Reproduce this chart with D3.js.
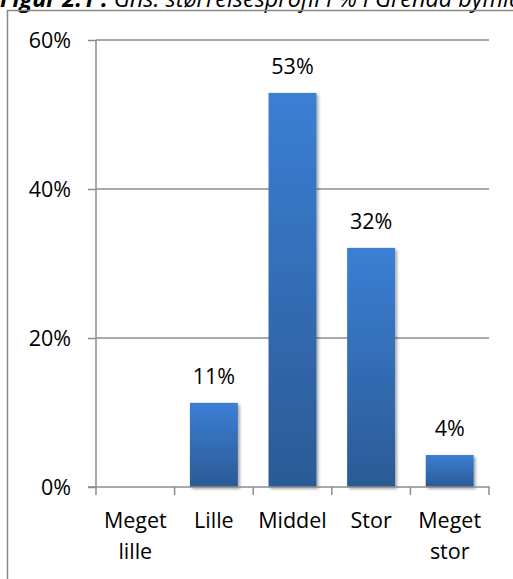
<!DOCTYPE html>
<html><head><meta charset="utf-8">
<script src="https://cdn.jsdelivr.net/npm/d3@7"></script>
<style>body{margin:0;background:#fff}svg{display:block}</style>
</head><body>
<script>
const categories = [["Meget","lille"],["Lille"],["Middel"],["Stor"],["Meget","stor"]];
const values = [0, 11.3, 52.9, 32.1, 4.3];
const valueLabels = [null, "11%", "53%", "32%", "4%"];
const yTicks = [0, 20, 40, 60];

const W = 513, H = 579;
const svg = d3.select("body").append("svg").attr("width", W).attr("height", H);
const defs = svg.append("defs");
const g = defs.append("linearGradient").attr("id","bg").attr("x1",0).attr("y1",0).attr("x2",0).attr("y2",1);
g.append("stop").attr("offset","0%").attr("stop-color","#3b7fd4");
g.append("stop").attr("offset","100%").attr("stop-color","#2b5a95");
const f = defs.append("filter").attr("id","sh").attr("x","-20%").attr("y","-20%").attr("width","140%").attr("height","140%");
f.append("feGaussianBlur").attr("in","SourceAlpha").attr("stdDeviation",1.5);
f.append("feOffset").attr("dx",1.5).attr("dy",1.5).attr("result","ob");
f.append("feComponentTransfer").append("feFuncA").attr("type","linear").attr("slope",0.35);
const m = f.append("feMerge"); m.append("feMergeNode"); m.append("feMergeNode").attr("in","SourceGraphic");

const font = "'Open Sans', sans-serif";

// title (cut off at top, as in the reference)
const t = svg.append("text").attr("x", 0).attr("y", 7).attr("font-family", font).attr("font-size", 23.5).attr("font-style","italic").attr("fill","#000");
t.append("tspan").attr("font-weight","bold").text("Figur 2.1 : ");
t.append("tspan").text("Gns. størrelsesprofil i % i Grenaa bymidte");

// frame
svg.append("path").attr("d", `M7.5,${H} V10.5 H${W}`).attr("fill","none").attr("stroke","#898989").attr("stroke-width",1.5);

const x = d3.scaleBand().domain(d3.range(categories.length)).range([96, 489]).padding(0);
const y = d3.scaleLinear().domain([0, 60]).range([487, 40]);

// gridlines
svg.append("g").selectAll("line").data(yTicks.filter(d=>d>0)).join("line")
  .attr("x1", 96).attr("x2", 489).attr("y1", d=>y(d)).attr("y2", d=>y(d))
  .attr("stroke","#8c8c8c").attr("stroke-width",1.5);

// y axis
const ya = svg.append("g").attr("transform","translate(96,0)")
  .call(d3.axisLeft(y).tickValues(yTicks).tickSize(8).tickPadding(17).tickFormat(d=>d+"%"));
ya.select(".domain").attr("stroke","#8c8c8c").attr("stroke-width",1.5).attr("d","M0,487.5V40");
ya.selectAll(".tick line").attr("stroke","#8c8c8c").attr("stroke-width",1.5);
ya.selectAll(".tick text").attr("font-family",font).attr("font-size",21.5).attr("fill","#000").attr("dy","0.34em");

// bars
const data = values.map((v,i)=>({i, v, label: valueLabels[i]}));
const bw = x.bandwidth()*0.61;
svg.append("g").selectAll("rect").data(data).join("rect")
  .attr("x",d=>x(d.i)+x.bandwidth()/2-bw/2).attr("width",bw)
  .attr("y",d=>y(d.v)).attr("height",d=>y(0)-y(d.v))
  .attr("fill","url(#bg)").attr("filter","url(#sh)");

// value labels
svg.append("g").selectAll("text").data(data.filter(d=>d.label!==null)).join("text")
  .attr("x",d=>x(d.i)+x.bandwidth()/2).attr("y",d=>y(d.v)-19)
  .attr("text-anchor","middle").attr("font-family",font).attr("font-size",21.5).attr("fill","#000")
  .text(d=>d.label);

// x axis
const xa = svg.append("g").attr("transform","translate(0,487)");
xa.append("line").attr("x1",88).attr("x2",489.75).attr("stroke","#8c8c8c").attr("stroke-width",1.5);
const xt = d3.range(categories.length+1).map(i=> i<categories.length ? x(i) : x(categories.length-1)+x.bandwidth());
xa.selectAll("line.t").data(xt).join("line").attr("class","t")
  .attr("x1",d=>d).attr("x2",d=>d).attr("y1",0).attr("y2",8).attr("stroke","#8c8c8c").attr("stroke-width",1.5);
const lbl = xa.selectAll("text").data(categories).join("text")
  .attr("x",(d,i)=>x(i)+x.bandwidth()/2).attr("y",41)
  .attr("text-anchor","middle").attr("font-family",font).attr("font-size",21.5).attr("fill","#000");
lbl.selectAll("tspan").data(d=>d).join("tspan")
  .attr("x",function(){return this.parentNode.getAttribute("x");})
  .attr("dy",(d,i)=>i===0?0:31).text(d=>d);
</script>
</body></html>
